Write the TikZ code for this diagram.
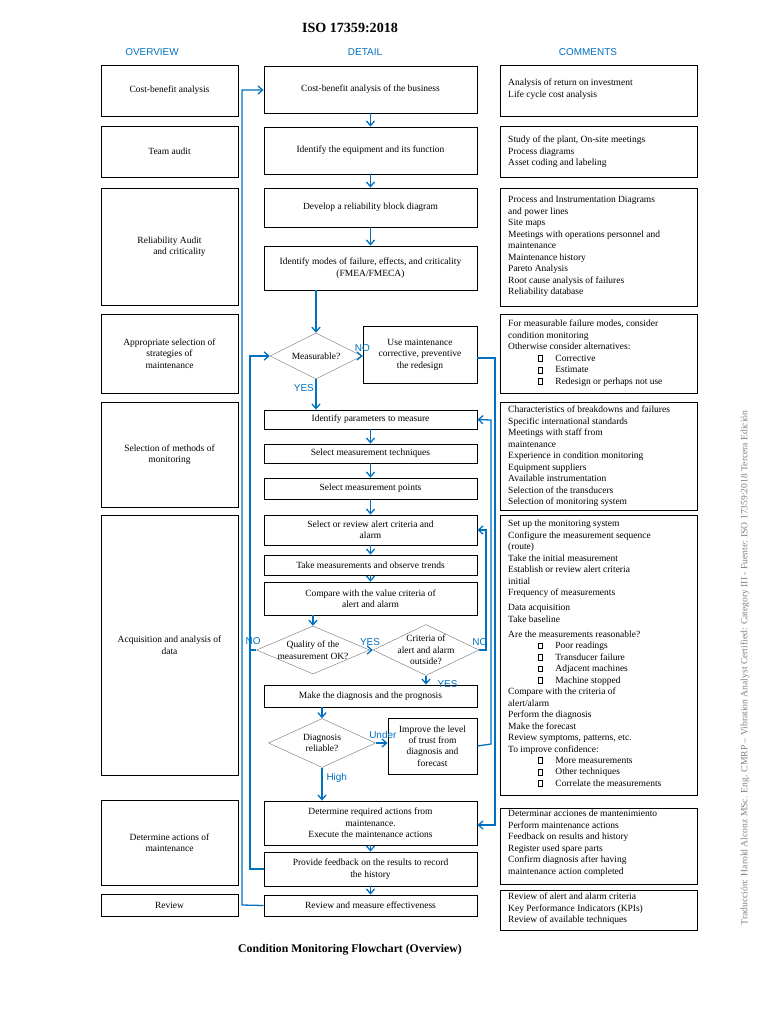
\documentclass[tikz,border=0pt]{standalone}
\usepackage{fontspec}
\setmainfont{Liberation Serif}
\setsansfont{Liberation Sans}
\usetikzlibrary{arrows.meta,fit,shapes.geometric}
\definecolor{flowblue}{RGB}{0,112,192}
\newcommand{\bx}{\tikz[baseline=0pt]\draw[line width=0.3pt](0,0) rectangle (3pt,5pt);}
\newcommand{\bul}{\hspace*{9mm}\bx\hspace{4mm}}
\tikzset{
  box/.style={draw, line width=0.7pt, inner sep=0pt},
  txt/.style={label={[align=center]center:#1}},
  dia/.style={draw=gray, diamond, inner sep=0pt},
  note/.style={anchor=north west, inner sep=0pt, align=left},
  arr/.style={draw=flowblue, line width=1.1pt, -{Straight Barb[length=4pt,width=7pt]}},
  lin/.style={draw=flowblue, line width=1.1pt},
  lab/.style={text=flowblue, font=\sffamily\fontsize{8.5}{10}\selectfont}
}
\begin{document}
\begin{tikzpicture}[x=0.3mm, y=-0.3mm, font=\fontsize{8.1}{9.8}\selectfont]
\useasboundingbox (0,0) rectangle (768,1024);
% headings
\node[font=\bfseries\fontsize{12}{14}\selectfont] (title) at (350,28) {ISO 17359:2018};
\node[lab] (hover) at (152,52) {OVERVIEW};
\node[lab] (hdet) at (365,52) {DETAIL};
\node[lab] (hcom) at (588,52) {COMMENTS};
\node[font=\bfseries\fontsize{10}{12}\selectfont] (caption) at (350,950) {Condition Monitoring Flowchart (Overview)};
\node[rotate=90, text=gray, font=\fontsize{8.2}{9}\selectfont] (credit) at (745,668)
  {Traducción: Harold Alconz MSc. Eng. CMRP -- Vibration Analyst Certified: Category III - Fuente: ISO 17359:2018 Tercera Edición};

% overview column
\node[box, fit={(101,65)(238,116)}, txt={Cost-benefit analysis}] (o1) {};
\node[box, fit={(101,126)(238,177)}, txt={Team audit}] (o2) {};
\node[box, fit={(101,188)(238,305)}, txt={Reliability Audit\\ \hspace*{6mm}and criticality}] (o3) {};
\node[box, fit={(101,314)(238,393)}, txt={Appropriate selection of\\strategies of\\maintenance}] (o4) {};
\node[box, fit={(101,402)(238,507)}, txt={Selection of methods of\\monitoring}] (o5) {};
\node[box, fit={(101,515)(238,775)}, txt={Acquisition and analysis of\\data}] (o6) {};
\node[box, fit={(101,800)(238,885)}, txt={Determine actions of\\maintenance}] (o7) {};
\node[box, fit={(101,894)(238,916)}, txt={Review}] (o8) {};

% detail column
\node[box, fit={(264,66)(477,113)}, txt={Cost-benefit analysis of the business}] (d1) {};
\node[box, fit={(264,127)(477,174)}, txt={Identify the equipment and its function}] (d2) {};
\node[box, fit={(264,188)(477,227)}, txt={Develop a reliability block diagram}] (d3) {};
\node[box, fit={(264,246)(477,290)}, txt={Identify modes of failure, effects, and criticality\\(FMEA/FMECA)}] (d4) {};
\node[dia, minimum width=27.6mm, minimum height=13.8mm, txt={Measurable?}] (meas) at (316,356) {};
\node[box, fit={(363,326)(477,383)}, txt={Use maintenance\\corrective, preventive\\the redesign}] (use) {};
\node[box, fit={(264,410)(477,429)}, txt={Identify parameters to measure}] (d5) {};
\node[box, fit={(264,444)(477,463)}, txt={Select measurement techniques}] (d6) {};
\node[box, fit={(264,478)(477,499)}, txt={Select measurement points}] (d7) {};
\node[box, fit={(264,515)(477,545)}, txt={Select or review alert criteria and\\alarm}] (d8) {};
\node[box, fit={(264,555)(477,575)}, txt={Take measurements and observe trends}] (d9) {};
\node[box, fit={(264,582)(477,615)}, txt={Compare with the value criteria of\\alert and alarm}] (d10) {};
\node[dia, minimum width=33.9mm, minimum height=14.4mm, txt={Quality of the\\measurement OK?}] (qual) at (313,650) {};
\node[dia, minimum width=31.8mm, minimum height=15.3mm, txt={Criteria of\\alert and alarm\\outside?}] (crit) at (426,650) {};
\node[box, fit={(264,685)(477,707)}, txt={Make the diagnosis and the prognosis}] (d11) {};
\node[dia, minimum width=32.1mm, minimum height=14.7mm, txt={Diagnosis\\reliable?}] (diag) at (322,743) {};
\node[box, fit={(388,718)(477,774)}, txt={Improve the level\\of trust from\\diagnosis and\\forecast}] (imp) {};
\node[box, fit={(264,801)(477,845)}, txt={Determine required actions from\\maintenance.\\Execute the maintenance actions}] (d12) {};
\node[box, fit={(264,852)(477,886)}, txt={Provide feedback on the results to record\\the history}] (d13) {};
\node[box, fit={(264,895)(477,916)}, txt={Review and measure effectiveness}] (d14) {};

% comments column
\node[box, fit={(500,65)(697,116)}] (c1) {};
\node[box, fit={(500,126)(697,177)}] (c2) {};
\node[box, fit={(500,188)(697,306)}] (c3) {};
\node[box, fit={(500,314)(697,393)}] (c4) {};
\node[box, fit={(500,402)(697,510)}] (c5) {};
\node[box, fit={(500,515)(697,795)}] (c6) {};
\node[box, fit={(500,808)(697,884)}] (c7) {};
\node[box, fit={(500,890)(697,930)}] (c8) {};
\node[note] (t1) at (508,79) {Analysis of return on investment\\Life cycle cost analysis};
\node[note] (t2) at (508,136) {Study of the plant, On-site meetings\\Process diagrams\\Asset coding and labeling};
\node[note] (t3) at (508,196) {Process and Instrumentation Diagrams\\and power lines\\Site maps\\Meetings with operations personnel and\\maintenance\\Maintenance history\\Pareto Analysis\\Root cause analysis of failures\\Reliability database};
\node[note] (t4) at (508,320) {For measurable failure modes, consider\\condition monitoring\\Otherwise consider alternatives:\\\bul Corrective\\\bul Estimate\\\bul Redesign or perhaps not use};
\node[note] (t5) at (508,406) {Characteristics of breakdowns and failures\\Specific international standards\\Meetings with staff from\\maintenance\\Experience in condition monitoring\\Equipment suppliers\\Available instrumentation\\Selection of the transducers\\Selection of monitoring system};
\node[note] (t6) at (508,520) {Set up the monitoring system\\Configure the measurement sequence\\(route)\\Take the initial measurement\\Establish or review alert criteria\\initial\\Frequency of measurements\\[3pt]Data acquisition\\Take baseline\\[3pt]Are the measurements reasonable?\\\bul Poor readings\\\bul Transducer failure\\\bul Adjacent machines\\\bul Machine stopped\\Compare with the criteria of\\alert/alarm\\Perform the diagnosis\\Make the forecast\\Review symptoms, patterns, etc.\\To improve confidence:\\\bul More measurements\\\bul Other techniques\\\bul Correlate the measurements};
\node[note] (t7) at (508,810) {Determinar acciones de mantenimiento\\Perform maintenance actions\\Feedback on results and history\\Register used spare parts\\Confirm diagnosis after having\\maintenance action completed};
\node[note] (t8) at (508,893) {Review of alert and alarm criteria\\Key Performance Indicators (KPIs)\\Review of available techniques};

% main flow
\draw[arr] (d1) -- (d2);
\draw[arr] (d2) -- (d3);
\draw[arr] (d3) -- (d4);
\draw[arr] (d4.south -| meas.north) -- (meas.north);
\draw[arr] (meas.east) -- node[lab, above, pos=0.3] {NO} (use.west |- meas.east);
\draw[arr] (meas.south) -- node[lab, left=-2pt, pos=0.3] {YES} (d5.north -| meas.south);
\draw[arr] (d5) -- (d6);
\draw[arr] (d6) -- (d7);
\draw[arr] (d7) -- (d8);
\draw[arr] (d8) -- (d9);
\draw[arr] (d9) -- (d10);
\draw[arr] (d10.south -| qual.north) -- (qual.north);
\draw[arr] (qual.east) -- node[lab, above, pos=0.1] {YES} (crit.west);
\draw[arr] (crit.south) -- node[lab, right=6pt, pos=0.9] {YES} (d11.north -| crit.south);
\draw[arr] (d11.south -| diag.north) -- (diag.north);
\draw[arr] (diag.east) -- node[lab, above, pos=0.6] {Under} (imp.west |- diag.east);
\draw[arr] (diag.south) -- node[lab, right, pos=0.3] {High} (d12.north -| diag.south);
\draw[arr] (d12) -- (d13);
\draw[arr] (d13) -- (d14);

% feedback loops
\draw[arr] (d14.west) -- (242,905) -- (242,90) -- (d1.west |- 0,90);
\draw[arr] (d13.west) -- (250,869) -- (250,356) -- (meas.west);
\draw[lin] (qual.west) -- node[lab, above=1pt, pos=0.5] {NO} (250,650);
\draw[arr] (crit.east) -- node[lab, above, pos=0.1] {NO} (486,650) -- (486,530) -- (d8.east);
\draw[arr] (imp.east) -- (491,744) -- (491,420) -- (d5.east);
\draw[arr] (use.east |- 0,358) -- (495,358) -- (495,825) -- (d12.east |- 0,825);
\end{tikzpicture}
\end{document}
